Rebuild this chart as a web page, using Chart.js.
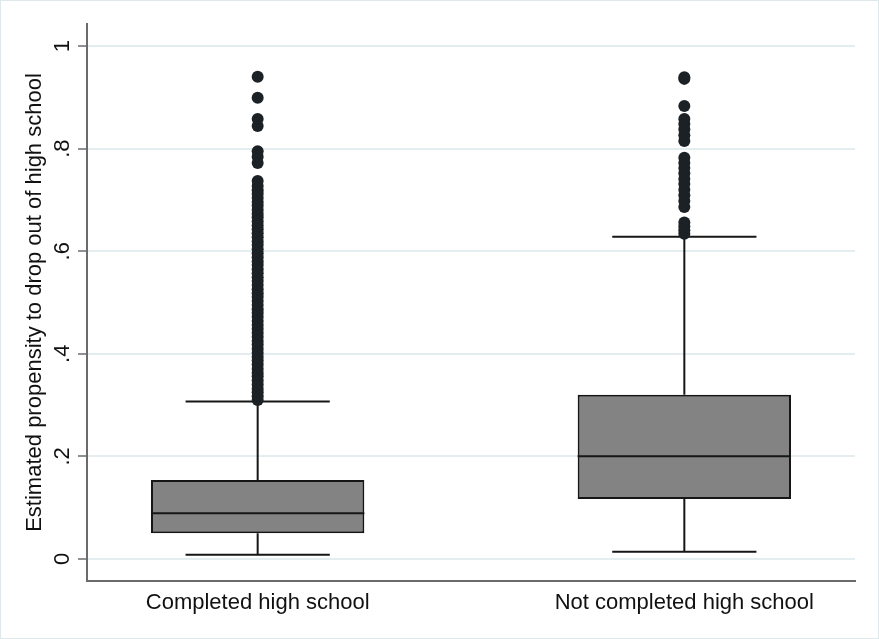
<!DOCTYPE html>
<html>
<head>
<meta charset="utf-8">
<script src="https://cdn.jsdelivr.net/npm/chart.js@4.4.1/dist/chart.umd.min.js"></script>
<style>
  html, body { margin: 0; padding: 0; background: #ffffff; }
  #wrap { width: 879px; height: 639px; position: relative; }
</style>
</head>
<body>
<div id="wrap"><canvas id="c"></canvas></div>
<script>
// Groups and axis labels
const categories = ['Completed high school', 'Not completed high school'];
const yTickValues = [0, 0.2, 0.4, 0.6, 0.8, 1];
const yTickLabels = ['0', '.2', '.4', '.6', '.8', '1'];
const yTitle = 'Estimated propensity to drop out of high school';

// Box summaries, one entry per group
const lowerWhisker = [0.008, 0.014];
const q1           = [0.050, 0.117];
const median       = [0.089, 0.200];
const q3           = [0.154, 0.320];
const upperWhisker = [0.307, 0.628];

// Points beyond the upper whisker
const outliersCompleted = [
  0.310, 0.317, 0.325, 0.332, 0.340, 0.348, 0.356, 0.363, 0.371, 0.379,
  0.387, 0.394, 0.402, 0.410, 0.418, 0.425, 0.433, 0.441, 0.449, 0.456,
  0.464, 0.472, 0.480, 0.487, 0.495, 0.503, 0.511, 0.518, 0.526, 0.534,
  0.542, 0.549, 0.557, 0.565, 0.573, 0.580, 0.588, 0.596, 0.604, 0.612,
  0.619, 0.627, 0.635, 0.643, 0.650, 0.658, 0.666, 0.673, 0.681, 0.689,
  0.696, 0.704, 0.712, 0.719, 0.727, 0.737,
  0.772, 0.784, 0.795, 0.844, 0.858, 0.899, 0.940
];
const outliersNotCompleted = [
  0.634, 0.641, 0.648, 0.656,
  0.686, 0.698, 0.709, 0.720, 0.731, 0.741, 0.752, 0.762, 0.772, 0.782,
  0.815, 0.826, 0.838, 0.848, 0.858,
  0.883, 0.936, 0.939
];

// Drawing styles
const FONT = '"Liberation Sans", Arial, Helvetica, sans-serif';
const TEXT = '#111111';
const INK = '#161616';
const BOX_FILL = '#838383';
const DOT = '#1c2125';
const CAP_HALF = 0.169;   // half width of whisker caps, in x-axis units
const BOX_HALF = 0.25;    // half width of the boxes, in x-axis units

const xs = categories.map((_, i) => i + 1);

// Interquartile boxes as floating bars
const boxes = xs.map((x, i) => ({ x, y: [q1[i], q3[i]] }));

// Whiskers, caps and median lines as broken line segments
const segmentPts = [];
xs.forEach((x, i) => {
  const gap = { x, y: null };
  segmentPts.push({ x, y: q3[i] }, { x, y: upperWhisker[i] }, gap);
  segmentPts.push({ x, y: q1[i] }, { x, y: lowerWhisker[i] }, gap);
  segmentPts.push({ x: x - CAP_HALF, y: upperWhisker[i] }, { x: x + CAP_HALF, y: upperWhisker[i] }, gap);
  segmentPts.push({ x: x - CAP_HALF, y: lowerWhisker[i] }, { x: x + CAP_HALF, y: lowerWhisker[i] }, gap);
  segmentPts.push({ x: x - BOX_HALF, y: median[i] }, { x: x + BOX_HALF, y: median[i] }, gap);
});

const outlierPts = []
  .concat(outliersCompleted.map(v => ({ x: 1, y: v })))
  .concat(outliersNotCompleted.map(v => ({ x: 2, y: v })));

const frame = {
  id: 'frame',
  beforeDraw(chart) {
    const ctx = chart.ctx;
    ctx.save();
    ctx.fillStyle = '#ffffff';
    ctx.fillRect(0, 0, chart.width, chart.height);
    ctx.strokeStyle = '#dfe8eb';
    ctx.lineWidth = 1;
    ctx.strokeRect(0.5, 0.5, chart.width - 1, chart.height - 1);
    ctx.restore();
  }
};

// Rotated y tick labels, reading bottom to top
const yLabels = {
  id: 'yLabels',
  afterDraw(chart) {
    const ctx = chart.ctx;
    const y = chart.scales.y;
    const baseX = y.right - 18;
    ctx.save();
    ctx.font = '22px ' + FONT;
    ctx.fillStyle = TEXT;
    ctx.textAlign = 'center';
    ctx.textBaseline = 'alphabetic';
    yTickValues.forEach((v, i) => {
      ctx.save();
      ctx.translate(baseX, y.getPixelForValue(v));
      ctx.rotate(-Math.PI / 2);
      ctx.fillText(yTickLabels[i], 0, 0);
      ctx.restore();
    });
    ctx.restore();
  }
};

new Chart(document.getElementById('c'), {
  type: 'bar',
  data: {
    datasets: [
      {
        type: 'scatter',
        data: outlierPts,
        pointRadius: 6,
        pointHoverRadius: 6,
        pointBackgroundColor: DOT,
        pointBorderWidth: 0,
        showLine: false,
        order: 0
      },
      {
        type: 'line',
        data: segmentPts,
        borderColor: INK,
        borderWidth: 2,
        pointRadius: 0,
        spanGaps: false,
        fill: false,
        tension: 0,
        order: 1
      },
      {
        type: 'bar',
        data: boxes,
        backgroundColor: BOX_FILL,
        borderColor: INK,
        borderWidth: 2,
        borderSkipped: false,
        grouped: false,
        barPercentage: 0.5,
        categoryPercentage: 1.0,
        order: 2
      }
    ]
  },
  options: {
    responsive: true,
    maintainAspectRatio: false,
    animation: false,
    events: [],
    layout: { padding: { top: 24, right: 24, left: 0, bottom: 0 } },
    plugins: {
      legend: { display: false },
      tooltip: { enabled: false }
    },
    scales: {
      x: {
        type: 'linear',
        min: 0.6,
        max: 2.4,
        offset: false,
        grid: { display: false, drawTicks: false, offset: false },
        border: { display: true, color: '#6b6b6b', width: 2 },
        afterBuildTicks(scale) { scale.ticks = xs.map(v => ({ value: v })); },
        afterFit(scale) { scale.height = 58; },
        ticks: {
          autoSkip: false,
          maxRotation: 0,
          padding: 9,
          color: TEXT,
          font: { family: FONT, size: 22 },
          callback: (v) => categories[v - 1]
        }
      },
      y: {
        type: 'linear',
        min: -0.043,
        max: 1.043,
        beginAtZero: false,
        grid: {
          color: '#e4eef0',
          lineWidth: 2,
          drawTicks: true,
          tickLength: 9,
          tickColor: '#6b6b6b',
          tickWidth: 1.5
        },
        border: { display: true, color: '#6b6b6b', width: 2 },
        afterBuildTicks(scale) { scale.ticks = yTickValues.map(v => ({ value: v })); },
        afterFit(scale) { scale.width = 87; },
        ticks: { display: false },
        title: {
          display: true,
          text: yTitle,
          color: TEXT,
          font: { family: FONT, size: 22 },
          padding: { top: 22, bottom: 0 }
        }
      }
    }
  },
  plugins: [frame, yLabels]
});
</script>
</body>
</html>
